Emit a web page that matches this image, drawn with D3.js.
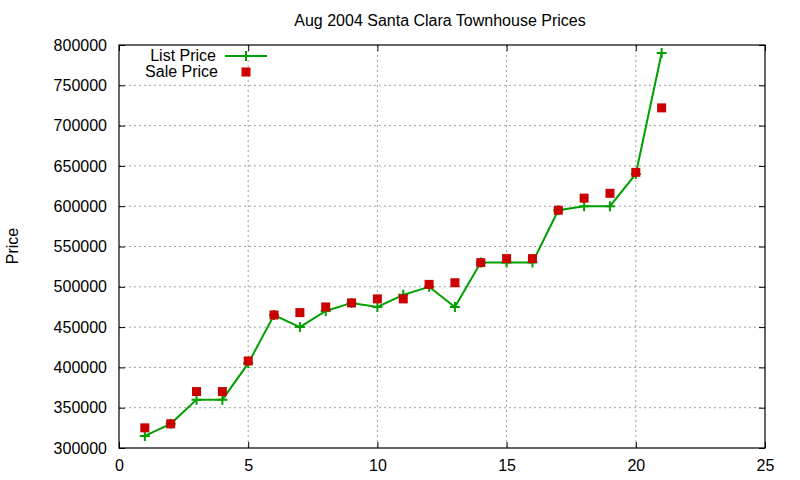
<!DOCTYPE html>
<html>
<head>
<meta charset="utf-8">
<script src="https://cdn.jsdelivr.net/npm/d3@7"></script>
<style>
  body { margin: 0; background: #fff; }
  text { font-family: "Liberation Sans", Arial, sans-serif; fill: #000; }
</style>
</head>
<body>
<div id="chart"></div>
<script>
const [width, height] = [800, 480];
const margin = {top: 45, right: 35, bottom: 32, left: 119};

// data
const units = [1, 2, 3, 4, 5, 6, 7, 8, 9, 10, 11, 12, 13, 14, 15, 16, 17, 18, 19, 20, 21];
const listPrice = [315000, 330000, 360000, 360000, 405000, 465000, 450000, 470000, 480000, 475000, 490000,
                   500000, 475000, 530000, 530000, 530000, 595000, 600000, 600000, 640000, 790000];
const salePrice = [325000, 330000, 370000, 370000, 408000, 465000, 468000, 475000, 480000, 485000, 485000,
                   503000, 505000, 530000, 535000, 535000, 595000, 610000, 616000, 642000, 722000];
const xTicks = [0, 5, 10, 15, 20, 25];
const yTicks = [300000, 350000, 400000, 450000, 500000, 550000, 600000, 650000, 700000, 750000, 800000];

const green = "#00a000", red = "#cc0000";
const w = width - margin.left - margin.right;
const h = height - margin.top - margin.bottom;

const svg = d3.select("#chart")
  .append("svg")
  .attr("width", width)
  .attr("height", height);

const g = svg.append("g")
  .attr("transform", `translate(${margin.left}, ${margin.top})`);

// scales
const x = d3.scaleLinear().domain([0, 25]).range([0, w]);
const y = d3.scaleLinear().domain([300000, 800000]).range([h, 0]);

// dotted grid
g.selectAll(".vgrid")
  .data(xTicks.slice(1, -1))
  .enter().append("line")
  .attr("x1", d => x(d)).attr("x2", d => x(d))
  .attr("y1", 0).attr("y2", h)
  .attr("stroke", "#a0a0a0").attr("stroke-dasharray", "2,3");

g.selectAll(".hgrid")
  .data(yTicks.slice(1, -1))
  .enter().append("line")
  .attr("x1", 0).attr("x2", w)
  .attr("y1", d => y(d)).attr("y2", d => y(d))
  .attr("stroke", "#a0a0a0").attr("stroke-dasharray", "2,3");

// axes, ticks inward on all four sides
const tickLen = 6;
const axB = g.append("g").attr("transform", `translate(0, ${h})`)
  .call(d3.axisBottom(x).tickValues(xTicks).tickSize(-tickLen).tickPadding(12));
const axT = g.append("g")
  .call(d3.axisTop(x).tickValues(xTicks).tickSize(-tickLen).tickFormat(""));
const axL = g.append("g")
  .call(d3.axisLeft(y).tickValues(yTicks).tickSize(-tickLen).tickPadding(12).tickFormat(d3.format("d")));
const axR = g.append("g").attr("transform", `translate(${w}, 0)`)
  .call(d3.axisRight(y).tickValues(yTicks).tickSize(-tickLen).tickFormat(""));

[axB, axT, axL, axR].forEach(a => {
  a.select(".domain").remove();
  a.selectAll("line").attr("stroke", "#000");
  a.selectAll("text").style("font-size", "16px").attr("fill", "#000")
    .style("font-family", "Liberation Sans, Arial, sans-serif");
});

g.append("rect")
  .attr("width", w).attr("height", h)
  .attr("fill", "none").attr("stroke", "#000").attr("stroke-width", 1.2);

// list price line + crosses
const line = d3.line()
  .x((d, i) => x(units[i]))
  .y(d => y(d));

g.append("path")
  .datum(listPrice)
  .attr("d", line)
  .attr("fill", "none")
  .attr("stroke", green)
  .attr("stroke-width", 2);

g.selectAll(".lp")
  .data(listPrice)
  .enter().append("path")
  .attr("transform", (d, i) => `translate(${x(units[i])}, ${y(d)})`)
  .attr("d", "M-5,0H5M0,-5V5")
  .attr("stroke", green).attr("stroke-width", 2);

// sale price squares
g.selectAll(".sp")
  .data(salePrice)
  .enter().append("rect")
  .attr("x", (d, i) => x(units[i]) - 4.5)
  .attr("y", d => y(d) - 4.5)
  .attr("width", 9).attr("height", 9)
  .attr("fill", red);

// legend
const legend = svg.append("g");
legend.append("text").attr("x", 216).attr("y", 55).attr("dy", "0.35em")
  .attr("text-anchor", "end").style("font-size", "16px").text("List Price");
legend.append("line").attr("x1", 225).attr("x2", 267).attr("y1", 56).attr("y2", 56)
  .attr("stroke", green).attr("stroke-width", 2);
legend.append("path").attr("transform", "translate(246,56)")
  .attr("d", "M-5,0H5M0,-5V5").attr("stroke", green).attr("stroke-width", 2);
legend.append("text").attr("x", 218).attr("y", 71).attr("dy", "0.35em")
  .attr("text-anchor", "end").style("font-size", "16px").text("Sale Price");
legend.append("rect").attr("x", 241.5).attr("y", 67.5).attr("width", 9).attr("height", 9)
  .attr("fill", red);

// title and y label
svg.append("text")
  .attr("x", 440).attr("y", 20).attr("dy", "0.35em")
  .attr("text-anchor", "middle").style("font-size", "16px")
  .text("Aug 2004 Santa Clara Townhouse Prices");

svg.append("text")
  .attr("transform", "translate(12, 246) rotate(-90)")
  .attr("dy", "0.35em")
  .attr("text-anchor", "middle").style("font-size", "16px")
  .text("Price");
</script>
</body>
</html>
